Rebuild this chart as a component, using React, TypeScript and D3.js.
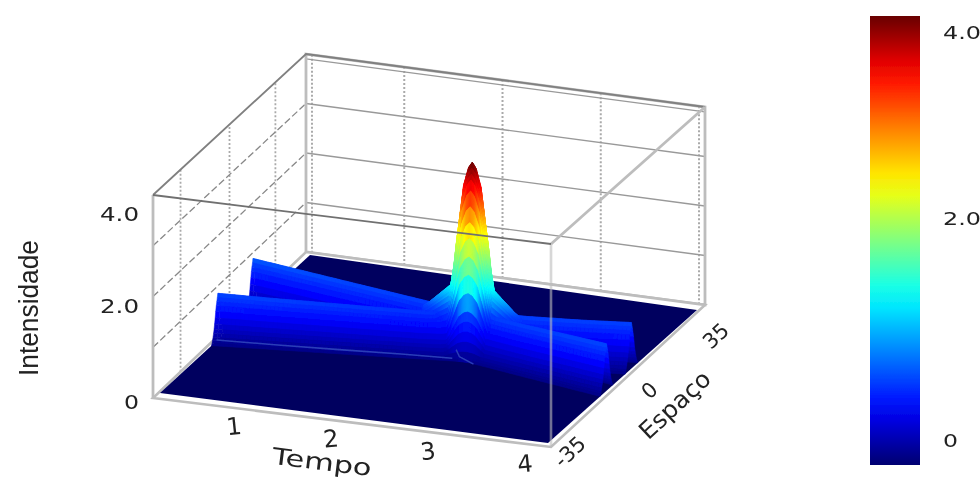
import React, { useMemo } from "react";
import * as d3 from "d3";

// ---- values ----
const timeTicks = [1, 2, 3, 4];
const spaceTicks = [-35, 0, 35];
const zTicks = [0, 2, 4];
const zTickLabels = ["0", "2.0", "4.0"];
const barTicks = [0, 2, 4];

// crest of the two travelling ridges, read at these times
const rowTimes = [0, 0.5, 1, 1.5, 2, 2.45, 3, 3.5, 4];
const ridgeAx = [-8, -6.4, -4.8, -3.2, -1.5, 0, 1, 2.6, 4.2];
const ridgeAz = [0.93, 0.9, 0.88, 0.86, 0.84, 0.9, 0.9, 0.9, 0.92];
const ridgeBx = [8.4, 6.7, 5, 3.3, 1.6, 0, -2.7, -5.1, -7.5];
const ridgeBz = [0.98, 0.96, 0.94, 0.92, 0.9, 0.9, 0.9, 0.92, 0.94];

// ridge cross-section (distance from crest -> share of crest height)
const ridgeOffsets = [-3, -2.4, -1.6, -0.8, 0, 0.8, 1.6, 2.4, 3];
const ridgeShape = [0, 0.1, 0.35, 0.75, 1, 0.75, 0.35, 0.1, 0];

// collision peak, height along time around its top, then its width in space
const peakTimes = [1.9, 1.95, 2.01, 2.23, 2.27, 2.29, 2.36, 2.41, 2.45, 2.49, 2.54, 2.61, 2.63, 2.67, 2.89, 2.95, 3.0];
const peakZ = [0, 0.9, 0.98, 1.38, 1.9, 2.3, 3.4, 3.76, 3.88, 3.76, 3.4, 2.3, 1.9, 1.38, 0.98, 0.9, 0];
const peakOffsets = [-3.2, -2.2, -1.4, -0.7, 0, 0.7, 1.4, 2.2, 3.2];
const peakShape = [0, 0.25, 0.62, 0.9, 1, 0.9, 0.62, 0.25, 0];

// thin lighter line at the foot of the front ridge
const footT = [0, 0.6, 1.2, 1.8, 2.3];
const footX = [-8.6, -7.2, -5.6, -3.8, -2.6];
const footStubT = [2.25, 2.35, 2.55];
const footStubX = [1.5, -1.5, -4];

// jet colour stops
const jetStops = [0, 0.125, 0.375, 0.625, 0.875, 1];
const jetColors = ["#000070", "#0000ff", "#00ffff", "#ffff00", "#ff0000", "#680000"];
const floorColor = "#00005e";
// height -> place on the colour bar
const zStops = [0, 0.9, 1.38, 2.45, 3.85];
const barStops = [0.02, 0.19, 0.375, 0.625, 1];

// ---- scales and projection ----
const jet = d3.scaleLinear<string>().domain(jetStops).range(jetColors).interpolate(d3.interpolateRgb);
const zToJet = d3.scaleLinear().domain(zStops).range(barStops).clamp(true);
const tUnit = d3.scaleLinear().domain([0, 4]).range([0, 1]);
const xUnit = d3.scaleLinear().domain([-35, 35]).range([0, 1]);
const zPx = d3.scaleLinear().domain([0, 4]).range([0, 200]);

type P = [number, number];
const bilinear = (c00: P, c10: P, c01: P, c11: P, u: number, v: number): P => {
  const lerp = (a: number, b: number, k: number) => a + (b - a) * k;
  return [
    lerp(lerp(c00[0], c10[0], u), lerp(c01[0], c11[0], u), v),
    lerp(lerp(c00[1], c10[1], u), lerp(c01[1], c11[1], u), v),
  ];
};
const F00: P = [160, 393], F10: P = [548, 443], F01: P = [310, 255], F11: P = [697, 310];
const B00: P = [153, 398], B10: P = [551, 447], B01: P = [306, 252], B11: P = [705, 305];
const project = (t: number, x: number, z: number): P => {
  const p = bilinear(F00, F10, F01, F11, tUnit(t), xUnit(x));
  return [p[0], p[1] - zPx(z)];
};
const boxHeight = d3.scaleLinear().domain([0, 1]).range([203, 198]);
const boxPt = (t: number, x: number, z: number): P => {
  const p = bilinear(B00, B10, B01, B11, t, x);
  return [p[0], p[1] - (z / 4) * boxHeight(x)];
};

const aX = d3.scaleLinear().domain(rowTimes).range(ridgeAx).clamp(true);
const aZ = d3.scaleLinear().domain(rowTimes).range(ridgeAz).clamp(true);
const bX = d3.scaleLinear().domain(rowTimes).range(ridgeBx).clamp(true);
const bZ = d3.scaleLinear().domain(rowTimes).range(ridgeBz).clamp(true);
const rShape = d3.scaleLinear().domain(ridgeOffsets).range(ridgeShape).clamp(true);
const pT = d3.scaleLinear().domain(peakTimes).range(peakZ).clamp(true);
const pShape = d3.scaleLinear().domain(peakOffsets).range(peakShape).clamp(true);

type Cell = { pts: string; c: string; d: number };
const toPts = (pts: P[]) => pts.map((p) => p[0].toFixed(1) + "," + p[1].toFixed(1)).join(" ");
const GRAY = "#bdbdbd";

// one patch of surface: rows along time, columns along an offset from a moving centre
function patch(ts: number[], offs: number[], cx: (t: number) => number, zf: (t: number, off: number) => number): Cell[] {
  const out: Cell[] = [];
  for (let j = 0; j < ts.length - 1; j++) {
    const t0 = ts[j], t1 = ts[j + 1];
    for (let i = 0; i < offs.length - 1; i++) {
      const o0 = offs[i], o1 = offs[i + 1];
      const z = [zf(t0, o0), zf(t1, o0), zf(t1, o1), zf(t0, o1)];
      const m = d3.mean(z) as number;
      if (m < 0.004) continue;
      const foot = project((t0 + t1) / 2, cx((t0 + t1) / 2) + (o0 + o1) / 2, 0);
      out.push({
        pts: toPts([project(t0, cx(t0) + o0, z[0]), project(t1, cx(t1) + o0, z[1]), project(t1, cx(t1) + o1, z[2]), project(t0, cx(t0) + o1, z[3])]),
        c: jet(zToJet(m)),
        d: foot[1],
      });
    }
  }
  return out;
}

export default function App() {
  const cells = useMemo(() => {
    const ridgeTs = d3.range(0, 4.0001, 0.04);
    const offs = d3.range(-3, 3.0001, 0.25);
    const peakTs = d3.range(1.9, 3.0001, 0.005);
    const peakOffs = d3.range(-3.2, 3.2001, 0.2);
    const all = [
      ...patch(ridgeTs, offs, (t) => aX(t), (t, o) => aZ(t) * rShape(o)),
      ...patch(ridgeTs, offs, (t) => bX(t), (t, o) => bZ(t) * rShape(o)),
      ...patch(peakTs, peakOffs, () => 0, (t, o) => pT(t) * pShape(o)),
    ];
    return all.sort((p, q) => p.d - q.d);
  }, []);

  const grad = d3.range(0, 1.001, 0.05).map((k) => ({ k, c: jet(k) }));
  const line = d3.line<P>();
  const wallT = timeTicks.map((t) => t / 4);

  return (
    <svg width={980} height={479} style={{ position: "absolute", left: 0, top: 0, display: "block", background: "#fff" }}>
      <defs>
        <linearGradient id="bar" x1="0" y1="1" x2="0" y2="0">
          {grad.map((g) => (
            <stop key={g.k} offset={g.k} stopColor={g.c} />
          ))}
        </linearGradient>
        <filter id="soft" x="-5%" y="-5%" width="110%" height="110%">
          <feGaussianBlur stdDeviation="0.7" />
        </filter>
      </defs>

      <g filter="url(#soft)">
        {/* back wall grid */}
        {[0.015, ...wallT.map((k) => k * 0.985)].map((k) => (
          <path key={"bv" + k} d={line([boxPt(k, 1, 0), boxPt(k, 1, 4)]) as string} stroke="#aaa" strokeWidth={2} strokeDasharray="2 2" fill="none" />
        ))}
        {[1, 2, 3, 3.9].map((z) => (
          <path key={"bh" + z} d={line([boxPt(0, 1, z), boxPt(1, 1, z)]) as string} stroke="#999" strokeWidth={1.3} fill="none" />
        ))}
        {/* left wall grid */}
        {[0.18, 0.5, 0.8].map((k) => (
          <path key={"lv" + k} d={line([boxPt(0, k, 0), boxPt(0, k, 4)]) as string} stroke="#aaa" strokeWidth={1.8} strokeDasharray="2 2" fill="none" />
        ))}
        {[1, 2, 3].map((z) => (
          <path key={"lh" + z} d={line([boxPt(0, 0, z), boxPt(0, 1, z)]) as string} stroke="#888" strokeWidth={1.3} strokeDasharray="7 3" fill="none" />
        ))}
        {/* back edges */}
        <path d={line([boxPt(0, 1, 0), boxPt(0, 1, 4), boxPt(1, 1, 4), boxPt(1, 1, 0), boxPt(0, 1, 0)]) as string} stroke={GRAY} strokeWidth={2.8} fill="none" />
        <path d={line([boxPt(0, 0, 4), boxPt(0, 1, 4), boxPt(1, 1, 4)]) as string} stroke="#808080" strokeWidth={1.8} fill="none" />
        {/* box floor edge */}
        <polygon points={toPts([B00, B10, B11, B01])} fill="#fff" stroke={GRAY} strokeWidth={2.6} />
        {/* floor */}
        <polygon points={toPts([F00, F10, F11, F01])} fill={floorColor} />

        {/* surface, far cells first */}
        {cells.map((c, i) => (
          <polygon key={i} points={c.pts} fill={c.c} stroke={c.c} strokeWidth={0.5} />
        ))}

        {/* foot line */}
        <path d={line(footT.map((t, i) => project(t, footX[i], 0.02))) as string} stroke="#2a3db8" strokeWidth={1.6} fill="none" />
        <path d={line(footStubT.map((t, i) => project(t, footStubX[i], 0.02))) as string} stroke="#2a3db8" strokeWidth={1.4} fill="none" />

        {/* front edges over the surface */}
        <path d={line([boxPt(0, 0, 0), boxPt(0, 0, 4)]) as string} stroke={GRAY} strokeWidth={2.8} fill="none" />
        <path d={line([boxPt(1, 0, 0), boxPt(1, 0, 4)]) as string} stroke={GRAY} strokeWidth={2.6} strokeOpacity={0.6} fill="none" />
        <path d={line([boxPt(1, 0, 4), boxPt(1, 1, 4)]) as string} stroke={GRAY} strokeWidth={2.8} fill="none" />
        <path d={line([boxPt(0, 0, 4), boxPt(1, 0, 4)]) as string} stroke="#707070" strokeWidth={1.8} fill="none" />
      </g>

      <rect x={870} y={16} width={50} height={449} fill="url(#bar)" filter="url(#soft)" />

      <g fontFamily="'DejaVu Sans'" fill="#222" filter="url(#soft)">
        {zTicks.map((z, i) => (
          <text key={z} x={139} y={[402, 306, 214][i]} textAnchor="end" dominantBaseline="central" fontSize={19} textLength={i === 0 ? 15 : 39} lengthAdjust="spacingAndGlyphs">
            {zTickLabels[i]}
          </text>
        ))}
        {timeTicks.map((t) => {
          const p = project(t, -35, 0);
          return (
            <text key={t} x={p[0] - 23} y={p[1] + 21} textAnchor="middle" dominantBaseline="central" fontSize={24} transform={`rotate(-6 ${p[0] - 23} ${p[1] + 21})`}>
              {t}
            </text>
          );
        })}
        {spaceTicks.map((x, i) => {
          const p = project(4, x, 0);
          const ox = [22, 27, 19][i], oy = [9, 14, 26][i];
          return (
            <text key={x} x={p[0] + ox} y={p[1] + oy} textAnchor="middle" dominantBaseline="central" fontSize={21} transform={`rotate(-43 ${p[0] + ox} ${p[1] + oy})`}>
              {x}
            </text>
          );
        })}
        <text x={322} y={462} textAnchor="middle" dominantBaseline="central" fontSize={23} textLength={100} lengthAdjust="spacingAndGlyphs" transform="rotate(7 322 462)">
          Tempo
        </text>
        <text x={675} y={405} textAnchor="middle" dominantBaseline="central" fontSize={24} textLength={88} lengthAdjust="spacingAndGlyphs" transform="rotate(-43 675 405)">
          Espaço
        </text>
        <text x={29} y={308} textAnchor="middle" dominantBaseline="central" fontFamily="'Liberation Sans'" fontSize={27} textLength={136} lengthAdjust="spacingAndGlyphs" transform="rotate(-90 29 308)">
          Intensidade
        </text>
        {barTicks.map((v, i) => (
          <text key={v} x={943} y={[440, 218, 32][i]} dominantBaseline="central" fontSize={18} textLength={i === 0 ? 15 : 38} lengthAdjust="spacingAndGlyphs">
            {zTickLabels[i]}
          </text>
        ))}
      </g>
    </svg>
  );
}
